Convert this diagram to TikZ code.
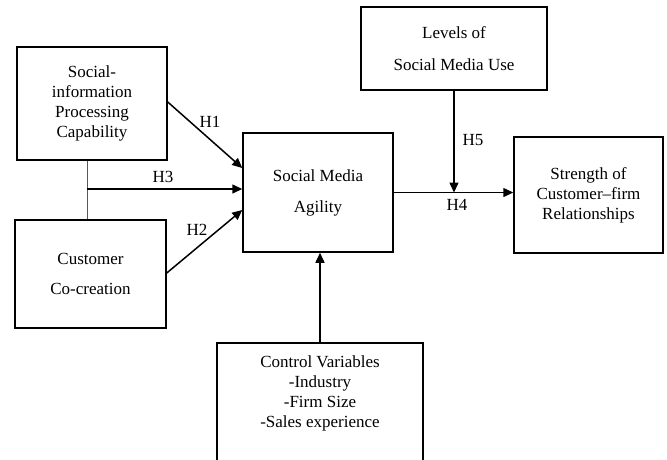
\documentclass[tikz,border=0pt]{standalone}
\usepackage{fontspec}
\setmainfont{Liberation Serif}
\usetikzlibrary{arrows.meta}
\begin{document}
\begin{tikzpicture}[x=1pt,y=-1pt,
  box/.style={draw,line width=1.5pt,align=center,inner sep=0pt,font=\fontsize{17}{20}\selectfont},
  lbl/.style={font=\fontsize{17}{20}\selectfont,inner sep=0pt},
  arr/.style={line width=1.5pt,-{Triangle[length=10pt,width=9pt]}},
  link/.style={line width=1pt,draw=black!65}]
\useasboundingbox (0,0) rectangle (667,459);
\clip (0,0) rectangle (667,459);
\node[box,minimum width=150pt,minimum height=113pt] (A) at (92,103.5) {Social-\\information\\Processing\\Capability};
\node[box,minimum width=151pt,minimum height=108pt] (B) at (90.5,274) {Customer\\[10pt]Co-creation};
\node[box,minimum width=150pt,minimum height=119pt] (C) at (318,192.5) {Social Media\\[11pt]Agility};
\node[box,minimum width=186pt,minimum height=83pt] (L) at (454,48.5) {Levels of\\[12pt]Social Media Use};
\node[box,minimum width=149pt,minimum height=116pt] (S) at (588.5,195) {Strength of\\Customer–firm\\Relationships};
\node[box,minimum width=206pt,minimum height=150pt] (K) at (320,418) {};
\node[lbl,align=center,font=\fontsize{17}{20}\selectfont] (KT) at (320,393) {Control Variables\\-Industry\\-Firm Size\\-Sales experience};
% connectors
\coordinate (A1) at (A.east |- 0,102);
\coordinate (B1) at (B.east |- 0,273);
\coordinate (C1) at (C.west |- 0,168);
\coordinate (C2) at (C.west |- 0,189);
\coordinate (C3) at (C.west |- 0,210);
\coordinate (M) at (87,189);
\draw[arr] (A1) -- (C1);
\draw[arr] (B1) -- (C3);
\draw[link] (A.south -| M) -- (B.north -| M);
\draw[arr] (M) -- (C2);
\draw[arr] (C.east) -- (C.east -| S.west);
\draw[arr] (L.south) -- (L.south |- C.east);
\draw[arr] (K.north) -- (K.north |- C.south);
% labels
\node[lbl] (h1) at (210,122) {H1};
\node[lbl] (h3) at (163,177) {H3};
\node[lbl] (h2) at (197,230) {H2};
\node[lbl] (h4) at (457,205) {H4};
\node[lbl] (h5) at (473,140) {H5};
\end{tikzpicture}
\end{document}
